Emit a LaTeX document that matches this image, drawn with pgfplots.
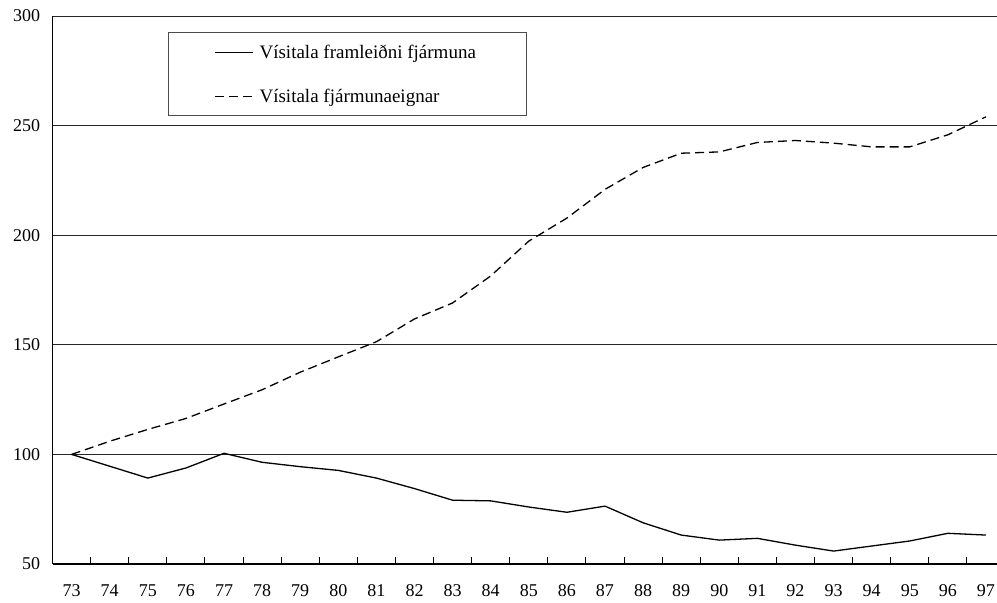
\documentclass[border=0pt]{standalone}
\usepackage{fontspec}
\setmainfont{Liberation Serif}
\usepackage{pgfplots}
\usepackage{pgfplotstable}
\pgfplotsset{compat=1.18}

% index 0..24 = years 73..97
\pgfplotstableread{
i  fram   eign
0  100.0  100.0
1  94.6   106.0
2  89.2   111.4
3  93.8   116.4
4  100.5  123.0
5  96.4   129.5
6  94.4   137.5
7  92.7   144.5
8  89.2   151.4
9  84.4   161.8
10 79.1   169.1
11 78.8   181.4
12 76.0   197.3
13 73.6   207.8
14 76.4   220.9
15 68.8   230.9
16 63.2   237.4
17 60.9   238.0
18 61.7   242.3
19 58.6   243.2
20 55.9   242.0
21 58.2   240.3
22 60.5   240.3
23 64.0   245.8
24 63.2   254.0
}\vdata

\begin{document}
\begin{tikzpicture}[x=1pt,y=1pt]
\path[use as bounding box] (0,0) rectangle (997,603);
\begin{axis}[
    at={(52.6pt,39pt)}, anchor=south west,
    scale only axis,
    width=944.4pt, height=548pt,
    xmin=-0.5, xmax=24.29,
    ymin=50, ymax=300,
    axis x line=bottom, axis y line=left,
    axis line style={-, black, line width=1.2pt},
    font=\fontsize{18}{21}\selectfont,
    /pgf/number format/assume math mode=true,
    ytick={50,100,...,300},
    ymajorgrids,
    grid style={black!85, line width=0.9pt},
    xtick={0,...,24},
    xticklabels={73,74,75,76,77,78,79,80,81,82,83,84,85,86,87,88,89,90,91,92,93,94,95,96,97},
    minor xtick={0.5,1.5,...,23.5},
    major tick length=0pt,
    minor tick length=7pt,
    tick align=inside,
    minor x tick style={black, line width=1pt},
    yticklabel style={anchor=east, xshift=-9pt},
    xticklabel style={anchor=north, yshift=-17pt},
    clip=false,
    legend style={
        at={(rel axis cs:0.1222,0.970)}, anchor=north west,
        draw=black!70, line width=0.9pt,
        inner xsep=0pt, inner ysep=10pt,
        row sep=25pt,
        font=\fontsize{19}{22}\selectfont,
        nodes={inner xsep=5.5pt, inner ysep=2pt},
    },
    legend cell align=left,
    legend image code/.code={
        \draw[draw=none] (0pt,0pt) -- (47pt,0pt);
        \draw[#1] (47pt,0pt) -- (85pt,0pt);
    },
]
\addplot[black, line width=1.3pt] table[x=i, y=fram] {\vdata};
\addlegendentry{\makebox[261pt][l]{Vísitala framleiðni fjármuna}}
\addplot[black, line width=1.3pt, dash pattern=on 9pt off 5pt] table[x=i, y=eign] {\vdata};
\addlegendentry{\makebox[261pt][l]{Vísitala fjármunaeignar}}
\end{axis}
\end{tikzpicture}
\end{document}
